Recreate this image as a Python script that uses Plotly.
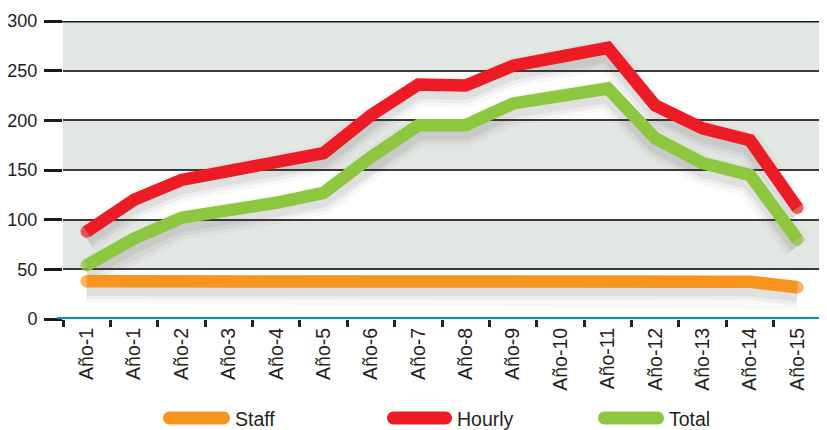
import plotly.graph_objects as go

categories = ["Año-1", "Año-1", "Año-2", "Año-3", "Año-4", "Año-5", "Año-6", "Año-7",
              "Año-8", "Año-9", "Año-10", "Año-11", "Año-12", "Año-13", "Año-14", "Año-15"]
staff = [38, 38, 38, 38, 38, 38, 38, 38, 38, 38, 38, 38, 38, 38, 37.5, 32]
hourly = [88, 120, 140, 148, 156, 167, 205, 236, 235, 255, 264, 273, 215, 192, 180, 112]
total = [54, 81, 102, 109, 117, 127, 163, 195, 195, 217, 224, 232, 182, 157, 145, 80]
y_ticks = [0, 50, 100, 150, 200, 250, 300]

series = [("Staff", staff, "#f7941d"), ("Total", total, "#8dc63f"), ("Hourly", hourly, "#ed1c24")]
legend_order = ["Staff", "Hourly", "Total"]

OFF = 8  # page body margin
W, H = 827 - OFF, 430 - OFF
# plot area in page pixels: x 63..827, y 21..319
ML, MT = 63 - OFF, 21 - OFF
MR, MB = 0, 430 - 319
PW, PH = W - ML - MR, H - MT - MB
FONT = "Liberation Sans, Arial, sans-serif"
TXT = "#231f20"

x = list(range(len(categories)))

def fx(px):  # page pixel -> paper
    return (px - OFF - ML) / PW

def fy(py):
    return (H - MB - (py - OFF)) / PH

fig = go.Figure()

for name, vals, col in series:
    for w, a in [(30, 0.035), (22, 0.055), (15, 0.08)]:
        fig.add_trace(go.Scatter(x=x, y=vals, mode="lines", yaxis="y2",
                                 line=dict(color=f"rgba(60,60,60,{a})", width=w),
                                 hoverinfo="skip", showlegend=False))

for name, vals, col in series:
    sizes = [12.5 if i in (0, len(vals) - 1) else 0 for i in range(len(vals))]
    fig.add_trace(go.Scatter(x=x, y=vals, mode="lines+markers", name=name, yaxis="y3",
                             line=dict(color=col, width=12.5),
                             marker=dict(color=col, size=sizes, line=dict(width=0)),
                             showlegend=False))

shapes = []
for i in range(len(y_ticks) - 1):
    if i % 2 == 1:
        shapes.append(dict(type="rect", xref="paper", yref="y", x0=0, x1=1,
                           y0=y_ticks[i], y1=y_ticks[i + 1], fillcolor="#e3e7e4",
                           line=dict(width=0), layer="below"))
shapes.append(dict(type="line", xref="paper", yref="y", x0=fx(45), x1=1,
                   y0=y_ticks[-1], y1=y_ticks[-1], line=dict(color="#1a1a1a", width=3)))
shapes.append(dict(type="line", xref="paper", yref="y", x0=fx(57), x1=1,
                   y0=0, y1=0, line=dict(color="#0095c0", width=4)))

annotations = []
colors = {n: c for n, _, c in series}
leg_items = {"Staff": (163, 230), "Hourly": (387, 452), "Total": (598, 664)}
ly, r = 418, 6.5
k = 0.5523
for name in legend_order:
    x0, x1 = leg_items[name]
    a, b = x0 + r, x1 - r
    pts = [
        f"M{fx(a)},{fy(ly - r)}",
        f"L{fx(b)},{fy(ly - r)}",
        f"C{fx(b + k * r)},{fy(ly - r)} {fx(x1)},{fy(ly - k * r)} {fx(x1)},{fy(ly)}",
        f"C{fx(x1)},{fy(ly + k * r)} {fx(b + k * r)},{fy(ly + r)} {fx(b)},{fy(ly + r)}",
        f"L{fx(a)},{fy(ly + r)}",
        f"C{fx(a - k * r)},{fy(ly + r)} {fx(x0)},{fy(ly + k * r)} {fx(x0)},{fy(ly)}",
        f"C{fx(x0)},{fy(ly - k * r)} {fx(a - k * r)},{fy(ly - r)} {fx(a)},{fy(ly - r)} Z",
    ]
    shapes.append(dict(type="path", xref="paper", yref="paper", path=" ".join(pts),
                       fillcolor=colors[name], line=dict(width=0)))
    annotations.append(dict(text=name, xref="paper", yref="paper", x=fx(x1 + 3), y=fy(ly + 1),
                            xanchor="left", yanchor="middle", showarrow=False,
                            font=dict(family=FONT, size=19.5, color=TXT)))

fig.update_layout(
    width=W, height=H,
    margin=dict(l=ML, r=MR, t=MT, b=MB, pad=0, autoexpand=False),
    paper_bgcolor="white", plot_bgcolor="white",
    font=dict(family=FONT, size=19, color=TXT),
    shapes=shapes, annotations=annotations,
    showlegend=False,
    xaxis=dict(range=[-0.5, len(categories) - 0.5 + 6 / 47.4], tickmode="array",
               tickvals=x, ticktext=categories, tickangle=-90, ticks="",
               showgrid=False, zeroline=False, showline=False, automargin=False,
               ticklabelstandoff=4,
               tickfont=dict(family=FONT, size=19.5, color=TXT),
               minor=dict(tickmode="array", tickvals=[i - 0.5 for i in range(len(categories) + 1)],
                          ticks="outside", ticklen=7, tickwidth=2.5, tickcolor="#222",
                          showgrid=False)),
    yaxis=dict(range=[0, 300], tickmode="array", tickvals=y_ticks,
               ticks="outside", ticklen=18, tickwidth=3, tickcolor="#1a1a1a",
               showgrid=True, gridcolor="#3a3a3a", gridwidth=1.5, automargin=False,
               zeroline=False, showline=False, ticklabelstandoff=3,
               tickfont=dict(family=FONT, size=18, color=TXT)),
    yaxis2=dict(range=[7, 307], overlaying="y", visible=False),
    yaxis3=dict(range=[0, 300], overlaying="y", visible=False),
)

fig.write_html("out.html")
